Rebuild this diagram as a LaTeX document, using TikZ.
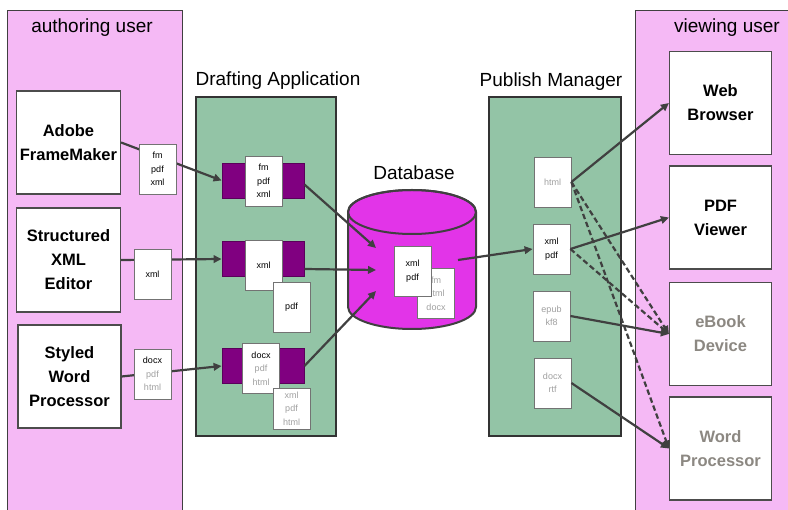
\documentclass[tikz,border=0pt]{standalone}
\usepackage{fontspec}
\setmainfont{Liberation Sans}
\usetikzlibrary{arrows.meta}
\definecolor{userpink}{RGB}{245,185,245}
\definecolor{appgreen}{RGB}{147,196,166}
\definecolor{barpurple}{RGB}{128,0,128}
\definecolor{dbmagenta}{RGB}{226,52,232}
\definecolor{linegray}{RGB}{64,64,64}
\definecolor{filegray}{RGB}{160,160,160}
\definecolor{bookgray}{RGB}{140,136,130}
\newcommand{\gr}[1]{\textcolor{filegray}{#1}}

\begin{document}
\begin{tikzpicture}[x=1pt,y=-1pt,
   panel/.style={fill=userpink, inner sep=0pt},
   paneledge/.style={draw=black!75, line width=0.8pt},
   apppanel/.style={fill=appgreen, draw=black!80, line width=2pt, inner sep=0pt},
   title/.style={font=\fontsize{19}{22}\selectfont},
   toolbox/.style={draw=black!70, fill=white, line width=1.2pt, inner sep=0pt, align=center,
      minimum width=104pt, minimum height=103pt, font=\fontsize{16.5}{24}\selectfont\bfseries},
   barnode/.style={fill=barpurple, draw=barpurple!70!black, line width=0.8pt, inner sep=0pt,
      minimum width=82pt, minimum height=35pt},
   filenode/.style={draw=black!55, fill=white, line width=0.8pt, inner sep=0pt, align=center,
      minimum width=37pt, minimum height=50pt, font=\fontsize{9}{13.5}\selectfont},
   flow/.style={draw=linegray, line width=2.2pt, -{Triangle[length=8pt,width=7.5pt]}},
   flowdash/.style={flow, dash pattern=on 5.5pt off 3pt}]
   \useasboundingbox (0,0) rectangle (788,510);

   % user panels
   \node[panel, minimum width=174pt, minimum height=499pt] (authoring) at (95,260.5) {};
   \draw[paneledge] (authoring.south west) |- (authoring.north east) -- (authoring.south east);
   \node[title] (authoringtitle) at (92,28) {authoring user};
   \node[panel, minimum width=152pt, minimum height=499pt] (viewing) at (712,260.5) {};
   \draw[paneledge] (viewing.south west) |- (viewing.north east);
   \node[title] (viewingtitle) at (727,28) {viewing user};

   % applications
   \node[apppanel, minimum width=140pt, minimum height=339pt] (drafting) at (266,266.5) {};
   \node[title] (draftingtitle) at (278,81) {Drafting Application};
   \node[apppanel, minimum width=132pt, minimum height=339pt] (publish) at (555,266.5) {};
   \node[title] (publishtitle) at (551,82) {Publish Manager};

   \node[toolbox] (framemaker) at (68.5,142.5) {Adobe\\FrameMaker};
   \node[toolbox, minimum height=104pt] (xmleditor) at (68.5,260) {Structured\\XML\\Editor};
   \node[toolbox, minimum width=103pt] (styledword) at (69.5,376.5) {Styled\\Word\\Processor};

   \foreach \name/\y/\txt/\col in {web/103/{Web\\Browser}/black, pdfview/217.5/{PDF\\Viewer}/black,
         ebook/334/{eBook\\Device}/bookgray, wordproc/448.5/{Word\\Processor}/bookgray}
      \node[toolbox, minimum width=102pt, text=\col] (\name) at (720.5,\y) {\txt};

   \node[barnode] (bar1) at (263,180.5) {};
   \node[barnode] (bar2) at (263,259) {};
   \node[barnode] (bar3) at (263,366) {};
   \node[filenode] (draftfm) at (263.5,181) {fm\\pdf\\xml};
   \node[filenode] (draftxml) at (263.5,265) {xml};
   \node[filenode] (draftpdf) at (291.5,307.5) {pdf};
   \node[filenode] (draftdocx) at (261,368.5) {docx\\\gr{pdf}\\\gr{html}};
   \node[filenode, minimum height=41pt] (draftout) at (291.5,408.5) {\gr{xml}\\\gr{pdf}\\\gr{html}};

   % database
   \draw[draw=linegray, fill=dbmagenta, line width=2pt] (348,212) -- (348,307)
      arc[start angle=180, end angle=0, x radius=64, y radius=22] -- (476,212)
      arc[start angle=0, end angle=-180, x radius=64, y radius=22] -- cycle;
   \draw[draw=linegray, line width=2pt] (412,212) ellipse[x radius=64, y radius=22];
   \node[title] (dbtitle) at (414,173) {Database};
   \node[filenode] (dbold) at (436,293.5) {\gr{fm}\\\gr{html}\\\gr{docx}};
   \node[filenode] (dbnew) at (412.5,271) {xml\\pdf};
   \coordinate (dbin1) at (376,248);
   \coordinate (dbin2) at (376,270);
   \coordinate (dbin3) at (376,291);
   \coordinate (dbout) at (458,260);

   \node[filenode] (pmhtml) at (552.5,182) {\gr{html}};
   \node[filenode] (pmxml) at (551.5,249) {xml\\pdf};
   \node[filenode] (pmepub) at (551.5,316) {\gr{epub}\\\gr{kf8}};
   \node[filenode] (pmdocx) at (552.5,383) {\gr{docx}\\\gr{rtf}};

   % connectors
   \draw[flow] (framemaker.east) -- (bar1.west);
   \draw[flow] (xmleditor.east) -- (bar2.west);
   \draw[flow] (styledword.east) -- (bar3.west);
   \node[filenode] (authfm) at (157.5,169) {fm\\pdf\\xml};
   \node[filenode] (authxml) at (152.5,274) {xml};
   \node[filenode] (authdocx) at (152.5,374) {docx\\\gr{pdf}\\\gr{html}};

   \draw[flow] ([yshift=-4pt]bar1.east) -- (dbin1);
   \draw[flow] ([yshift=-10pt]bar2.east) -- (dbin2);
   \draw[flow] (bar3.east) -- (dbin3);
   \draw[flow] (dbout) -- (pmxml.west);

   \draw[flow] (pmhtml.east) -- (web.west);
   \draw[flowdash] (pmhtml.east) -- (ebook.west);
   \draw[flowdash] (pmhtml.east) -- (wordproc.west);
   \draw[flow] (pmxml.east) -- (pdfview.west);
   \draw[flowdash] (pmxml.east) -- (ebook.west);
   \draw[flow] (pmepub.east) -- (ebook.west);
   \draw[flow] (pmdocx.east) -- (wordproc.west);
\end{tikzpicture}
\end{document}
